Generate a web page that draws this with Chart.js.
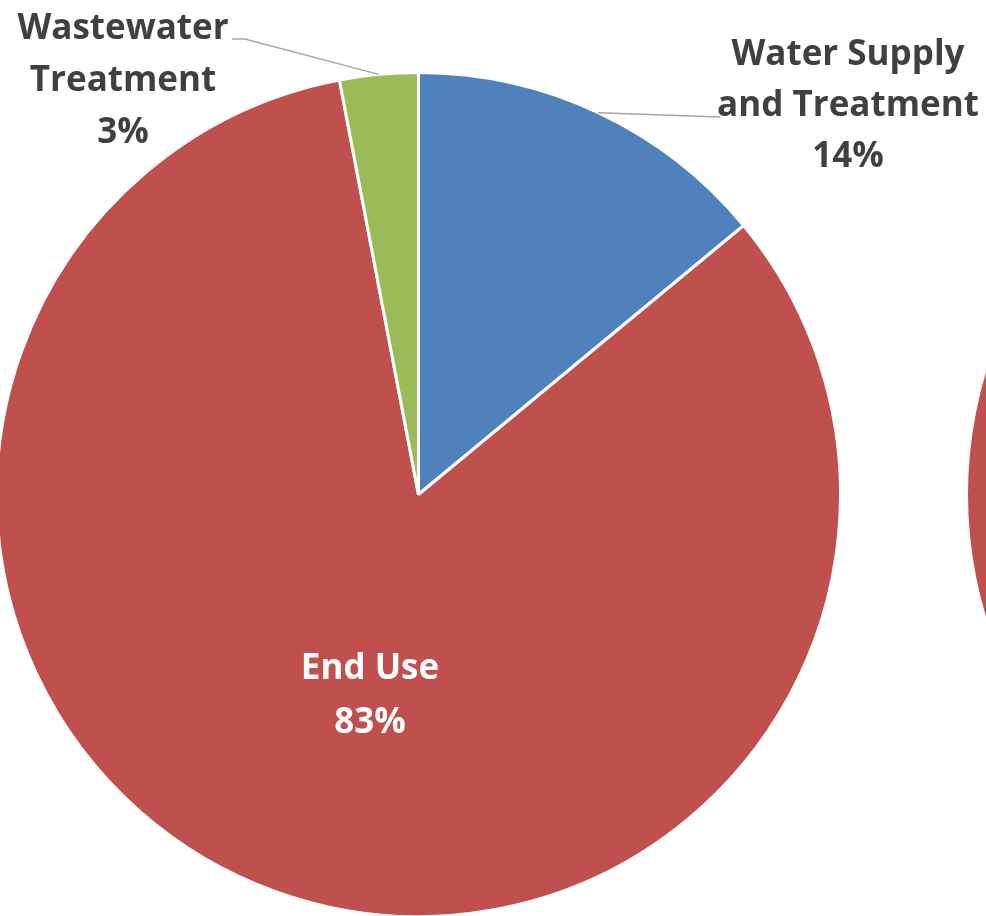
<!DOCTYPE html>
<html>
<head>
<meta charset="utf-8">
<script src="https://cdn.jsdelivr.net/npm/chart.js@4.4.1/dist/chart.umd.min.js"></script>
<style>
    html, body { margin: 0; padding: 0; background: #fff; overflow: hidden; }
    body { width: 986px; height: 916px; position: relative; }
    #energia { position: absolute; left: -5px; top: 0; }
    #otro { position: absolute; left: 968px; top: 71px; }
</style>
</head>
<body>
<canvas id="energia" width="992" height="918"></canvas>
<canvas id="otro" width="847" height="847"></canvas>
<script>
// datos
const categorias = [['Water Supply', 'and Treatment'], ['End Use'], ['Wastewater', 'Treatment']];
const valores = [14, 83, 3];
const colores = ['#4F81BD', '#C0504D', '#9BBB59'];
// el otro pastel, cortado en el borde derecho
const valoresOtro = [100];
const coloresOtro = ['#C0504D'];

document.addEventListener('DOMContentLoaded', function () {
    // posiciones de las etiquetas (primera línea base) y codo de la línea guía
    const etiquetas = [
        { x: 848, y: 65, paso: 51, color: '#404040', guia: [[720, 117]] },
        { x: 370, y: 679, paso: 54, color: '#FFFFFF', guia: null },
        { x: 123, y: 39, paso: 52, color: '#404040', guia: [[245, 39], [232, 39]] }
    ];

    const pluginEtiquetas = {
        id: 'etiquetas',
        afterDatasetsDraw(chart) {
            const c = chart.ctx;
            const meta = chart.getDatasetMeta(0);
            meta.data.forEach((arc, i) => {
                const et = etiquetas[i];
                const offX = chart.canvas.offsetLeft;
                if (et.guia) {
                    const a = (arc.startAngle + arc.endAngle) / 2;
                    const x0 = arc.x + Math.cos(a) * arc.outerRadius;
                    const y0 = arc.y + Math.sin(a) * arc.outerRadius;
                    c.save();
                    c.strokeStyle = '#A6A6A6';
                    c.lineWidth = 1.5;
                    c.beginPath();
                    c.moveTo(x0, y0);
                    et.guia.forEach(p => c.lineTo(p[0] - offX, p[1]));
                    c.stroke();
                    c.restore();
                }
                const lineas = categorias[i].concat([valores[i] + '%']);
                c.save();
                c.fillStyle = et.color;
                c.font = 'bold 35px "Open Sans"';
                c.textAlign = 'center';
                c.textBaseline = 'alphabetic';
                lineas.forEach((t, k) => c.fillText(t, et.x - offX, et.y + k * et.paso));
                c.restore();
            });
        }
    };

    new Chart(document.getElementById('energia').getContext('2d'), {
        type: 'pie',
        data: {
            labels: categorias.map(l => l.join(' ')),
            datasets: [{
                data: valores,
                backgroundColor: colores,
                borderColor: '#FFFFFF',
                borderWidth: 3
            }]
        },
        options: {
            responsive: false,
            animation: false,
            layout: { padding: { left: 0, top: 71, right: 145, bottom: 0 } },
            plugins: {
                legend: { display: false },
                tooltip: { enabled: false }
            }
        },
        plugins: [pluginEtiquetas]
    });

    new Chart(document.getElementById('otro').getContext('2d'), {
        type: 'pie',
        data: {
            labels: ['End Use'],
            datasets: [{
                data: valoresOtro,
                backgroundColor: coloresOtro,
                borderColor: '#FFFFFF',
                borderWidth: 0
            }]
        },
        options: {
            responsive: false,
            animation: false,
            plugins: {
                legend: { display: false },
                tooltip: { enabled: false }
            }
        }
    });
});
</script>
</body>
</html>
